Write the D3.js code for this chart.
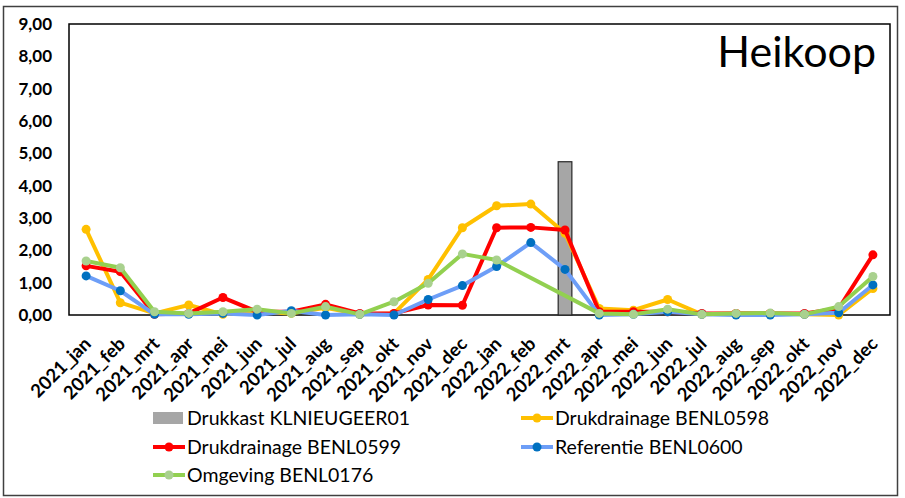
<!DOCTYPE html>
<html>
<head>
<meta charset="utf-8">
<script src="https://cdn.jsdelivr.net/npm/d3@7"></script>
<style>
  body { margin: 0; background: #fff; }
  svg text { font-family: Lato, "Open Sans", sans-serif; fill: #000; }
</style>
</head>
<body>
<svg id="chart" width="905" height="498"></svg>
<script>
// categories
let months = ['2021_jan', '2021_feb', '2021_mrt', '2021_apr', '2021_mei', '2021_jun', '2021_jul', '2021_aug',
  '2021_sep', '2021_okt', '2021_nov', '2021_dec', '2022_jan', '2022_feb', '2022_mrt', '2022_apr',
  '2022_mei', '2022_jun', '2022_jul', '2022_aug', '2022_sep', '2022_okt', '2022_nov', '2022_dec'];

// Drukkast (bar), only one measurement
let drukkast = [null, null, null, null, null, null, null, null, null, null, null, null,
  null, null, 4.74, null, null, null, null, null, null, null, null, null];

let benl0598 = [2.65, 0.38, 0.05, 0.31, 0.02, 0.1, 0.05, 0.22, 0.02, 0.05, 1.1, 2.7,
  3.38, 3.43, 2.53, 0.2, 0.15, 0.48, 0.02, 0.05, 0.05, 0.02, 0.0, 0.82];
let benl0599 = [1.52, 1.34, 0.02, 0.05, 0.54, 0.1, 0.1, 0.33, 0.05, 0.05, 0.31, 0.3,
  2.7, 2.71, 2.63, 0.1, 0.1, 0.1, 0.05, 0.05, 0.05, 0.05, 0.2, 1.86];
let benl0600 = [1.21, 0.75, 0.02, 0.02, 0.05, 0.0, 0.13, 0.0, 0.02, 0.0, 0.48, 0.91,
  1.5, 2.24, 1.41, 0.0, 0.02, 0.1, 0.02, 0.0, 0.0, 0.02, 0.07, 0.93];
let benl0176 = [1.67, 1.46, 0.1, 0.05, 0.1, 0.18, 0.05, 0.26, 0.02, 0.41, 0.98, 1.89,
  1.7, null, null, 0.05, 0.02, 0.18, 0.02, 0.05, 0.06, 0.02, 0.26, 1.19];

let yTicks = [0, 1, 2, 3, 4, 5, 6, 7, 8, 9];

let lineSeries = [
  { name: 'Drukdrainage BENL0598', values: benl0598, line: '#FFC000', marker: '#FFC000' },
  { name: 'Drukdrainage BENL0599', values: benl0599, line: '#FF0000', marker: '#FF0000' },
  { name: 'Referentie BENL0600', values: benl0600, line: '#6D9EF7', marker: '#0070C0' },
  { name: 'Omgeving BENL0176', values: benl0176, line: '#92D050', marker: '#A9D18E' }
];

let svg = d3.select('#chart');
let plot = { left: 69, top: 24, right: 890, bottom: 315 };

// outer frame
svg.append('rect')
  .attr('x', 3.5).attr('y', 6.5)
  .attr('width', 894).attr('height', 489)
  .attr('fill', '#fff')
  .attr('stroke', '#404040')
  .attr('stroke-width', 1.5);

let x = d3.scaleBand()
  .domain(months)
  .range([plot.left, plot.right]);

let y = d3.scaleLinear()
  .domain([0, 9])
  .range([plot.bottom, plot.top]);

// plot area border
svg.append('rect')
  .attr('x', plot.left).attr('y', plot.top)
  .attr('width', plot.right - plot.left).attr('height', plot.bottom - plot.top)
  .attr('fill', 'none')
  .attr('stroke', '#000')
  .attr('stroke-width', 1.5);

// y axis labels
let yAxis = d3.axisLeft(y)
  .tickValues(yTicks)
  .tickSize(0)
  .tickPadding(17)
  .tickFormat(d => d3.format('.2f')(d).replace('.', ','));
svg.append('g')
  .attr('transform', `translate(${plot.left},0)`)
  .call(yAxis)
  .call(g => g.select('.domain').remove())
  .selectAll('text')
  .style('font-size', '17px')
  .style('font-weight', 'bold');

// x axis labels, rotated
let xAxis = d3.axisBottom(x).tickSize(0).tickPadding(0);
svg.append('g')
  .attr('transform', `translate(0,${plot.bottom})`)
  .call(xAxis)
  .call(g => g.select('.domain').remove())
  .selectAll('text')
  .style('font-size', '18.5px')
  .style('font-weight', 'bold')
  .attr('text-anchor', 'end')
  .attr('dy', null)
  .attr('y', 0)
  .attr('transform', 'translate(6,30) rotate(-45)');

// bar
let barW = x.bandwidth() * 0.4;
svg.append('g').selectAll('rect')
  .data(months.map((m, i) => ({ m: m, v: drukkast[i] })).filter(d => d.v != null))
  .join('rect')
  .attr('x', d => x(d.m) + (x.bandwidth() - barW) / 2)
  .attr('y', d => y(d.v))
  .attr('width', barW)
  .attr('height', d => y(0) - y(d.v))
  .attr('fill', '#A6A6A6')
  .attr('stroke', '#262626')
  .attr('stroke-width', 1.2);

let cx = m => x(m) + x.bandwidth() / 2;
let lineFn = d3.line()
  .x(d => cx(d.m))
  .y(d => y(d.v));

lineSeries.forEach(s => {
  let pts = months.map((m, i) => ({ m: m, v: s.values[i] })).filter(d => d.v != null);
  let g = svg.append('g');
  g.append('path')
    .attr('d', lineFn(pts))
    .attr('fill', 'none')
    .attr('stroke', s.line)
    .attr('stroke-width', 4)
    .attr('stroke-linejoin', 'round');
  g.selectAll('circle')
    .data(pts)
    .join('circle')
    .attr('cx', d => cx(d.m))
    .attr('cy', d => y(d.v))
    .attr('r', 4.5)
    .attr('fill', s.marker);
});

// title inside plot
svg.append('text')
  .attr('x', 876)
  .attr('y', 67)
  .attr('text-anchor', 'end')
  .style('font-size', '43px')
  .text('Heikoop');

// legend
let legendItems = [
  { name: 'Drukkast KLNIEUGEER01', type: 'bar', col: 0, row: 0 },
  { name: lineSeries[0].name, s: lineSeries[0], col: 1, row: 0 },
  { name: lineSeries[1].name, s: lineSeries[1], col: 0, row: 1 },
  { name: lineSeries[2].name, s: lineSeries[2], col: 1, row: 1 },
  { name: lineSeries[3].name, s: lineSeries[3], col: 0, row: 2 }
];
let colX = [153, 521];
let rowY = [418, 447, 475];

let leg = svg.append('g').selectAll('g')
  .data(legendItems)
  .join('g')
  .attr('transform', d => `translate(${colX[d.col]},${rowY[d.row]})`);

leg.each(function(d) {
  let g = d3.select(this);
  if (d.type == 'bar') {
    g.append('rect')
      .attr('x', 0).attr('y', -6)
      .attr('width', 30).attr('height', 12)
      .attr('fill', '#A6A6A6');
  } else {
    g.append('line')
      .attr('x1', 0).attr('x2', 32)
      .attr('stroke', d.s.line)
      .attr('stroke-width', 4);
    g.append('circle')
      .attr('cx', 16).attr('r', 4.5)
      .attr('fill', d.s.marker);
  }
  g.append('text')
    .attr('x', 34)
    .attr('dy', '0.35em')
    .style('font-size', '19.5px')
    .text(d.name);
});
</script>
</body>
</html>
